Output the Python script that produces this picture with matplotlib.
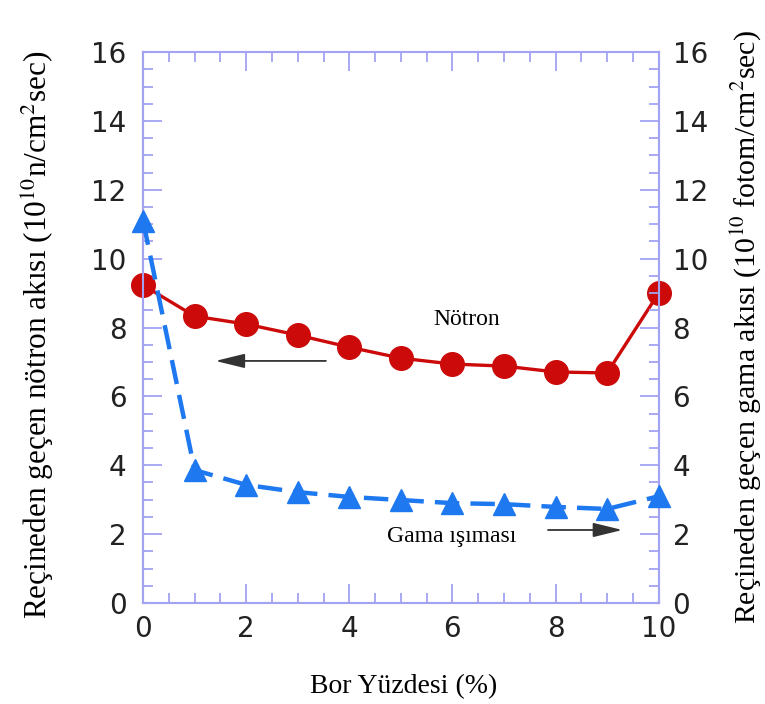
import numpy as np
import matplotlib.pyplot as plt
from matplotlib.ticker import MultipleLocator

plt.rcParams["mathtext.fontset"] = "stix"

# Boron percentage in the resin
bor = [0, 1, 2, 3, 4, 5, 6, 7, 8, 9, 10]
# Transmitted neutron flux (10^10 n/cm^2 sec)
notron = [9.23, 8.33, 8.10, 7.78, 7.43, 7.11, 6.94, 6.88, 6.71, 6.68, 9.00]
# Transmitted gamma flux (10^10 fotom/cm^2 sec)
gama = [11.1, 3.86, 3.43, 3.22, 3.08, 2.99, 2.90, 2.87, 2.79, 2.73, 3.10]

spine_col = "#a3a3f2"
red = "#cc0a0a"
blue = "#1e78f0"

fig = plt.figure(figsize=(7.65, 7.04), dpi=100)
ax = fig.add_axes([0.187, 0.1435, 0.674, 0.7825])
ax2 = ax.twinx()

ax.plot(bor, notron, color=red, lw=2.4, marker="o", markersize=17, zorder=3,
        clip_on=False)
ax2.plot(bor, gama, color=blue, lw=3.2, ls=(0, (5.5, 2.5)), marker="^",
         markersize=16, zorder=3, clip_on=False)

for a in (ax, ax2):
    a.set_xlim(0, 10)
    a.set_ylim(0, 16)
    a.xaxis.set_major_locator(MultipleLocator(2))
    a.xaxis.set_minor_locator(MultipleLocator(0.5))
    a.yaxis.set_major_locator(MultipleLocator(2))
    a.yaxis.set_minor_locator(MultipleLocator(0.5))
    for s in a.spines.values():
        s.set_color(spine_col)
        s.set_linewidth(1.5)
    a.tick_params(which="both", direction="in", color=spine_col, width=1.3,
                  top=True, labelsize=20, labelcolor="#222222")
    a.tick_params(which="major", length=14)
    a.tick_params(which="minor", length=7)

ax.tick_params(axis="y", pad=12)
ax.tick_params(axis="x", pad=9)
ax2.tick_params(axis="y", pad=10)

serif = "Liberation Serif"
arrow = dict(arrowstyle="-|>,head_length=0.9,head_width=0.22",
             color="#333333", lw=1.3, mutation_scale=20)
ax.text(6.28, 8.22, "Nötron", family=serif, fontsize=17, ha="center",
        va="center")
ax.annotate("", xy=(1.35, 7.03), xytext=(3.6, 7.03), arrowprops=arrow)
ax.text(5.99, 1.92, "Gama ışıması", family=serif, fontsize=17, ha="center",
        va="center")
ax.annotate("", xy=(9.35, 2.12), xytext=(7.8, 2.12), arrowprops=arrow)

fig.text(0.527, 0.024, "Bor Yüzdesi (%)", family=serif, fontsize=20,
         ha="center", va="center")
fig.text(0.05, 0.525, r"Reçineden geçen nötron akısı (10$^{10}$n/cm$^{2}$sec)",
         family=serif, fontsize=22.5, rotation=90, ha="center", va="center")
fig.text(0.974, 0.535,
         r"Reçineden geçen gama akısı (10$^{10}$ fotom/cm$^{2}$sec)",
         family=serif, fontsize=21.5, rotation=90, ha="center", va="center")

fig.savefig("out.png", dpi=100)
